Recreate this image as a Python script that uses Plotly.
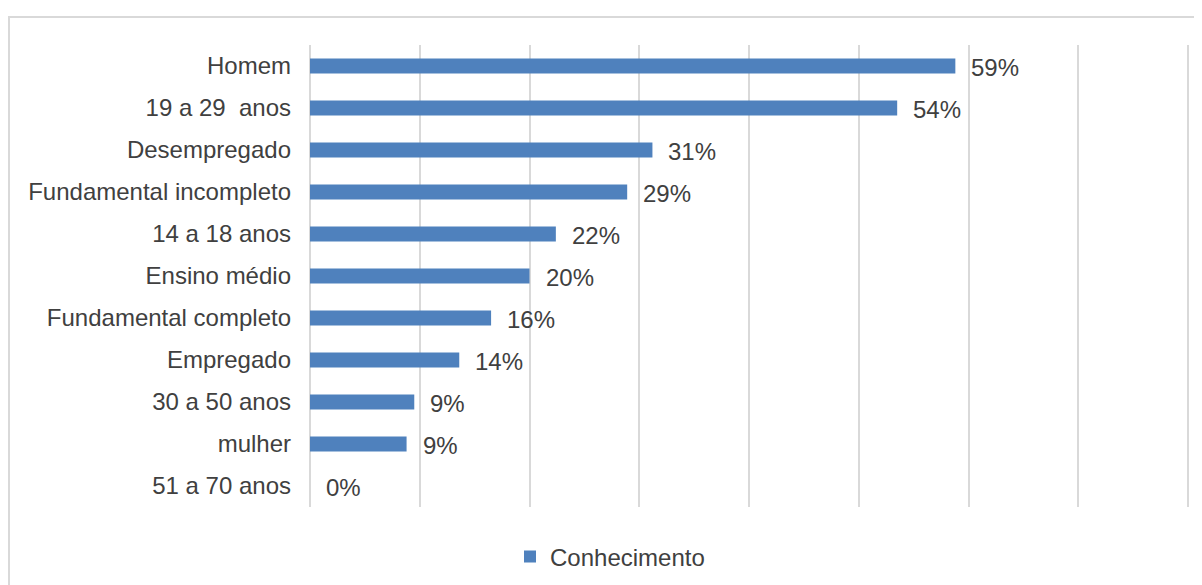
import plotly.graph_objects as go

categories = ["Homem", "19 a 29  anos", "Desempregado", "Fundamental incompleto",
              "14 a 18 anos", "Ensino médio", "Fundamental completo", "Empregado",
              "30 a 50 anos", "mulher", "51 a 70 anos"]
values = [0.588, 0.535, 0.312, 0.289, 0.224, 0.200, 0.165, 0.136, 0.095, 0.088, 0.0]
value_labels = ["59%", "54%", "31%", "29%", "22%", "20%", "16%", "14%", "9%", "9%", "0%"]
grid_ticks = [0.0, 0.1, 0.2, 0.3, 0.4, 0.5, 0.6, 0.7, 0.8]
series_name = "Conhecimento"

FONT = "Liberation Sans, Arial, sans-serif"
TEXT = "#404040"
FS = 24

fig = go.Figure()
fig.add_trace(go.Bar(
    x=values, y=categories, orientation="h", name=series_name,
    marker=dict(color="#4F81BD", line=dict(width=0)),
    showlegend=True,
))

annotations = []
for c, v, t in zip(categories, values, value_labels):
    annotations.append(dict(x=v, y=c, xref="x", yref="y", text=t, showarrow=False,
                            xanchor="left", yanchor="middle", xshift=14, yshift=-1,
                            font=dict(family=FONT, size=FS, color=TEXT)))

W, H = 1194, 577
XMAX = 0.81
L, T, B = 302, 37, 78
PW = round(XMAX * 1097.5)
R = W - L - PW
PH = H - T - B

fig.update_layout(
    width=W, height=H,
    autosize=False,
    margin=dict(l=L, r=R, t=T, b=B, autoexpand=False),
    paper_bgcolor="white", plot_bgcolor="white",
    bargap=0.64,
    font=dict(family=FONT, size=FS, color=TEXT),
    annotations=annotations,
    xaxis=dict(range=[0, XMAX], tickmode="array", tickvals=grid_ticks,
               showticklabels=False, showgrid=True,
               gridcolor="#D9D9D9", gridwidth=1.5, zeroline=True, zerolinecolor="#D9D9D9",
               zerolinewidth=1.5, showline=False, fixedrange=True),
    yaxis=dict(autorange="reversed", showgrid=False, ticks="", ticklabelstandoff=18,
               tickfont=dict(family=FONT, size=FS, color=TEXT), showline=False),
    legend=dict(orientation="h", x=(602 - L) / PW, xanchor="center",
                y=-0.108, yanchor="middle",
                font=dict(family=FONT, size=FS, color=TEXT)),
    shapes=[dict(type="rect", xref="paper", yref="paper",
                 x0=(1 - L) / PW, x1=1.2, y0=-0.5, y1=1 + (T - 9) / PH,
                 line=dict(color="#D9D9D9", width=2), fillcolor="rgba(0,0,0,0)", layer="below")],
)

fig.write_html("out.html")
